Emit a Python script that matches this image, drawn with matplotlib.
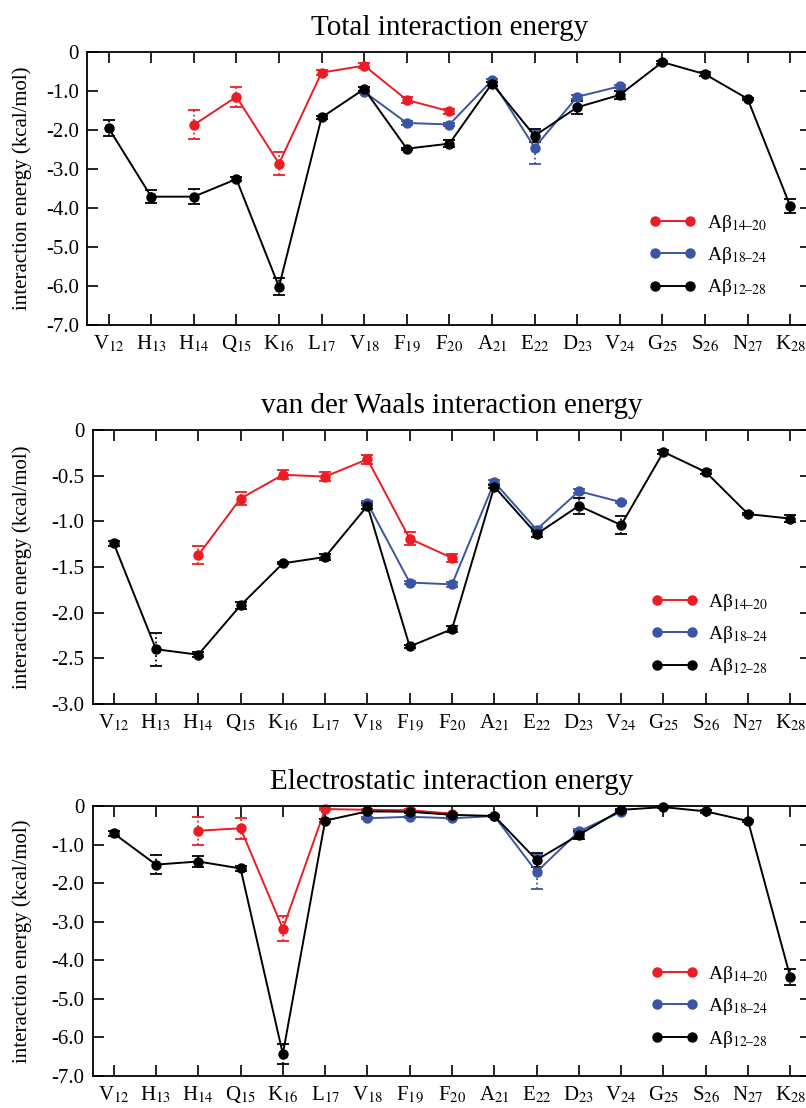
'''
residue-wise interaction energies for three A-beta fragments.
'''

import matplotlib
matplotlib.use("Agg")
import matplotlib.pyplot as plt
from matplotlib.lines import Line2D
import numpy as np

plt.rcParams["font.family"] = ["Liberation Serif", "DejaVu Serif"]
plt.rcParams["mathtext.fontset"] = "stix"

# residues along the x axis.
residues = ["V", "H", "H", "Q", "K", "L", "V", "F", "F", "A", "E", "D", "V", "G", "S", "N", "K"]
numbers = list(range(12, 29))

# first index of each fragment in the residue list.
start_14_20 = 2
start_18_24 = 6

# total interaction energy.
tot_12_28 = [-1.95, -3.71, -3.71, -3.26, -6.02, -1.68, -0.95, -2.48, -2.35, -0.81, -2.15, -1.42, -1.10, -0.26, -0.57, -1.20, -3.95]
tot_12_28_err = [0.21, 0.16, 0.19, 0.05, 0.22, 0.05, 0.05, 0.03, 0.08, 0.05, 0.17, 0.17, 0.11, 0.04, 0.05, 0.03, 0.19]
tot_14_20 = [-1.87, -1.15, -2.86, -0.53, -0.35, -1.23, -1.52]
tot_14_20_err = [0.37, 0.26, 0.29, 0.06, 0.06, 0.07, 0.06]
tot_18_24 = [-1.02, -1.82, -1.86, -0.73, -2.45, -1.15, -0.88]
tot_18_24_err = [0.03, 0.05, 0.05, 0.04, 0.43, 0.05, 0.04]

# van der waals interaction energy.
vdw_12_28 = [-1.24, -2.40, -2.46, -1.92, -1.46, -1.39, -0.83, -2.37, -2.18, -0.62, -1.14, -0.83, -1.04, -0.24, -0.46, -0.92, -0.97]
vdw_12_28_err = [0.03, 0.18, 0.03, 0.04, 0.01, 0.03, 0.03, 0.02, 0.03, 0.02, 0.03, 0.09, 0.10, 0.02, 0.02, 0.01, 0.04]
vdw_14_20 = [-1.37, -0.75, -0.49, -0.51, -0.32, -1.19, -1.40]
vdw_14_20_err = [0.10, 0.07, 0.05, 0.05, 0.05, 0.07, 0.04]
vdw_18_24 = [-0.80, -1.67, -1.69, -0.57, -1.09, -0.67, -0.79]
vdw_18_24_err = [0.02, 0.02, 0.03, 0.02, 0.03, 0.02, 0.01]

# electrostatic interaction energy.
ele_12_28 = [-0.71, -1.52, -1.44, -1.62, -6.43, -0.38, -0.14, -0.15, -0.23, -0.26, -1.40, -0.75, -0.10, -0.03, -0.14, -0.39, -4.44]
ele_12_28_err = [0.07, 0.24, 0.15, 0.07, 0.26, 0.04, 0.03, 0.03, 0.03, 0.03, 0.17, 0.10, 0.03, 0.02, 0.03, 0.02, 0.21]
ele_14_20 = [-0.64, -0.58, -3.18, -0.08, -0.10, -0.11, -0.20]
ele_14_20_err = [0.36, 0.27, 0.32, 0.03, 0.03, 0.03, 0.03]
ele_18_24 = [-0.32, -0.28, -0.32, -0.26, -1.71, -0.66, -0.15]
ele_18_24_err = [0.03, 0.03, 0.03, 0.03, 0.45, 0.05, 0.03]

RED, BLUE, BLACK = "#ec1c24", "#3a55a5", "#000000"
labels = ["A\u03b2$_{14\u201320}$", "A\u03b2$_{18\u201324}$", "A\u03b2$_{12\u201328}$"]


def draw_series(ax, start, values, errors, color):
    xs = np.arange(start, start + len(values))
    eb = ax.errorbar(xs, values, yerr=errors, color=color, lw=1.4, marker="o", ms=6.5,
                     capsize=4.5, capthick=1.3, elinewidth=1.3, clip_on=False)
    eb[2][0].set_linestyle((0, (1, 1.5)))


def panel(ax, title, ymin, ystep, series):
    for start, values, errors, color in series:
        draw_series(ax, start, values, errors, color)

    ax.set_xlim(-0.5, 16.5)
    ax.set_ylim(ymin, 0)
    ax.set_xticks(range(len(residues)))
    ax.set_xticklabels([f"{r}$_{{{n}}}$" for r, n in zip(residues, numbers)], fontsize=15)
    yt = np.arange(0, ymin - ystep / 2, -ystep)
    ax.set_yticks(yt)
    ax.set_yticklabels(["0" if v == 0 else f"{v:.1f}".replace("\u2212", "-") for v in yt], fontsize=15)
    ax.tick_params(direction="in", length=8, width=1.2, top=True, right=True, pad=6)
    for s in ax.spines.values():
        s.set_linewidth(1.3)
    ax.set_title(title, fontsize=21, pad=12)
    ax.set_ylabel("interaction energy (kcal/mol)", fontsize=15)

    handles = [Line2D([0], [0], color=c, lw=1.4, marker="o", ms=6.5) for c in (RED, BLUE, BLACK)]
    ax.legend(handles, labels, loc="lower left", bbox_to_anchor=(0.763, 0.062), frameon=False,
              numpoints=2, handlelength=2.4, handletextpad=0.55, labelspacing=0.58,
              borderpad=0, fontsize=14)


fig = plt.figure(figsize=(8.06, 11.08), dpi=100)

ax1 = fig.add_axes([0.1083, 0.7067, 0.8985, 0.2464])
panel(ax1, "Total interaction energy", -7.0, 1.0, [
    (start_14_20, tot_14_20, tot_14_20_err, RED),
    (start_18_24, tot_18_24, tot_18_24_err, BLUE),
    (0, tot_12_28, tot_12_28_err, BLACK),
])
ax1.yaxis.set_label_coords(-0.077, 0.5)

ax2 = fig.add_axes([0.1148, 0.3646, 0.892, 0.2473])
panel(ax2, "van der Waals interaction energy", -3.0, 0.5, [
    (start_14_20, vdw_14_20, vdw_14_20_err, RED),
    (start_18_24, vdw_18_24, vdw_18_24_err, BLUE),
    (0, vdw_12_28, vdw_12_28_err, BLACK),
])
ax2.yaxis.set_label_coords(-0.0845, 0.5)

ax3 = fig.add_axes([0.1148, 0.0289, 0.892, 0.2437])
panel(ax3, "Electrostatic interaction energy", -7.0, 1.0, [
    (start_14_20, ele_14_20, ele_14_20_err, RED),
    (start_18_24, ele_18_24, ele_18_24_err, BLUE),
    (0, ele_12_28, ele_12_28_err, BLACK),
])
ax3.yaxis.set_label_coords(-0.0845, 0.5)

fig.savefig("out.png", dpi=100)
